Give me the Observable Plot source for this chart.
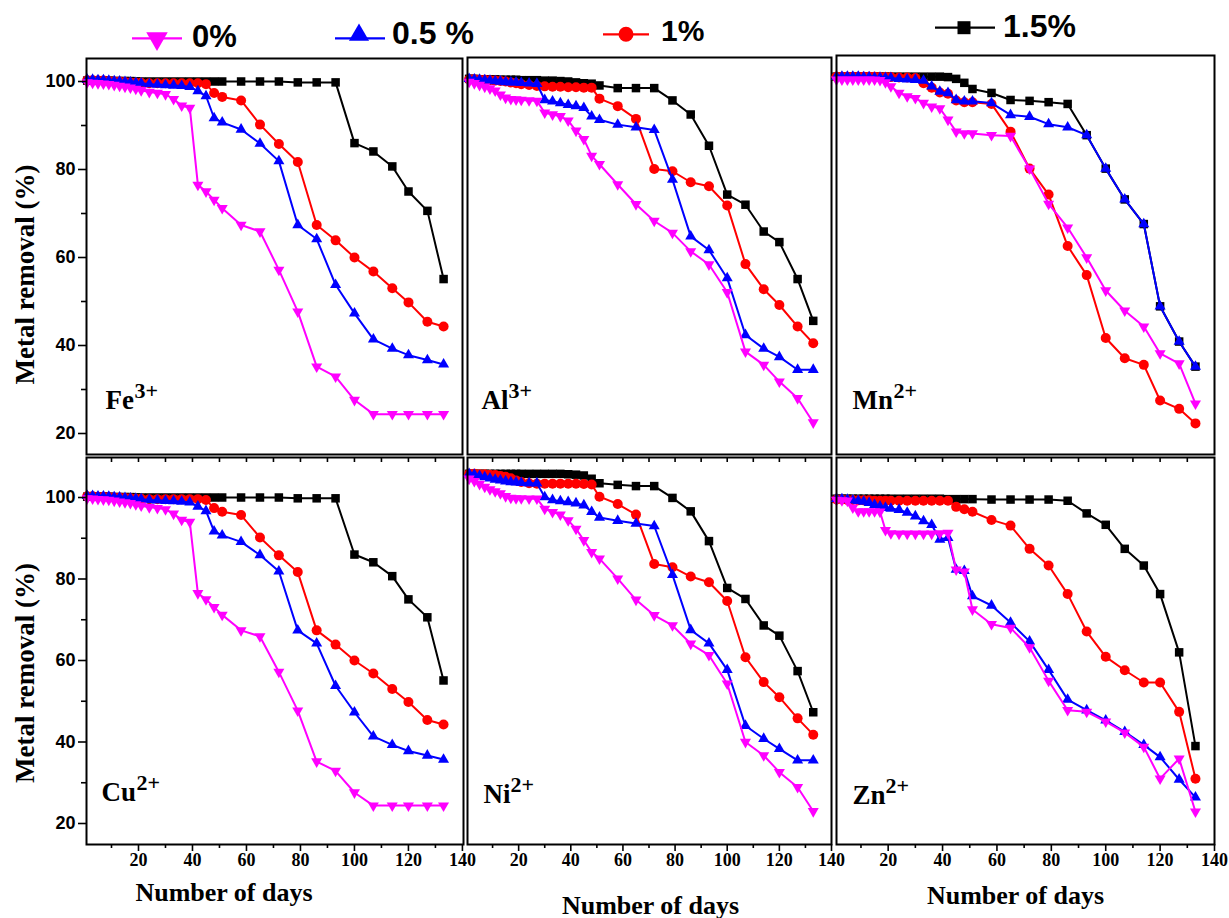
<!DOCTYPE html>
<html><head><meta charset="utf-8">
<script src="https://cdn.jsdelivr.net/npm/d3@7"></script>
<script src="https://cdn.jsdelivr.net/npm/@observablehq/plot@0.6"></script>
<style>
html,body{margin:0;padding:0;background:#fff;}
#root{position:relative;width:1229px;height:918px;overflow:hidden;background:#fff;}
#root svg{position:absolute;}
</style></head><body><div id="root"></div>
<script>
// ---------- data ----------
const days = [1,3,5,7,9,11,13,15,17,19,21,24,27,30,33,36,39,42,45,48,51,58,65,72,79,86,93,100,107,114,120,127,133];
const seriesNames = ["1.5%", "1%", "0.5 %", "0%"];
const seriesColors = ["#000000", "#ff0000", "#0000ff", "#ff00ff"];
const xTickLabels = [20, 40, 60, 80, 100, 120, 140];
const xMinorTicks = [10, 30, 50, 70, 90, 110, 130];
const yTickLabels = [20, 40, 60, 80, 100];
const yMinorTicks = [30, 50, 70, 90];

// Fe3+
const fe15 = [100.2,100.2,100.2,100.2,100.2,100.1,100.1,100.1,100.1,100,100,100,100,100,100,100,100,100,100,100,100,100,100,100,99.8,99.8,99.8,86,84.1,80.7,75,70.6,55.1];
const fe10 = [100.3,100.3,100.2,100.2,100.1,100,100,99.9,99.8,99.7,99.7,99.6,99.6,99.6,99.6,99.6,99.6,99.6,99.4,97.4,96.5,95.7,90.2,85.8,81.7,67.4,63.9,60,56.8,53,49.8,45.4,44.3];
const fe05 = [100.4,100.4,100.3,100.3,100.2,100.1,100,99.9,99.8,99.7,99.6,99.4,99.3,99.2,99.1,99,98.8,97.8,96.7,91.7,90.7,89.1,85.9,81.9,67.4,64.2,53.8,47.3,41.4,39.3,37.8,36.7,35.7];
const fe00 = [99.8,99.7,99.6,99.5,99.4,99.2,99,98.8,98.6,98.3,98,97.6,97.4,97.1,96,94.5,94,76.5,75,73.1,71.2,67.4,65.9,57.2,47.7,35.2,32.9,27.6,24.4,24.4,24.4,24.4,24.4];
// Al3+
const al15 = [100.6,100.6,100.5,100.5,100.5,100.5,100.4,100.4,100.4,100.4,100.3,100.3,100.3,100.2,100.2,100.1,100,99.8,99.6,99.5,99.1,98.5,98.5,98.5,95.7,92.5,85.4,74.3,72,65.9,63.5,55.1,45.6];
const al10 = [100.5,100.5,100.4,100.4,100.3,100.2,100.1,100,99.8,99.6,99.4,99.2,99,98.9,98.8,98.8,98.7,98.7,98.6,98.6,96.1,94.4,91.5,80.1,79.6,77.1,76.2,71.8,58.5,52.8,49.2,44.3,40.5];
const al05 = [100.6,100.5,100.4,100.3,100.2,100.1,100,99.9,99.8,99.8,99.7,99.6,99.5,95.8,95.5,95.1,94.7,94.4,94,92.1,91.3,90.2,89.6,89,77.7,64.8,61.7,55.3,42.4,39.3,37.4,34.5,34.5];
const al00 = [99.9,99.6,99.2,98.8,98.4,97.9,97,96.3,96,95.9,95.8,95.7,95.6,92.9,92.5,92.1,91.1,88.8,86.9,83.1,81.2,76.6,72.1,68.3,65.6,61.4,58.4,52.1,38.6,35.6,31.8,28,22.5];
// Mn2+
const mn15 = [101.1,101.1,101.1,101.1,101.1,101.1,101.1,101.1,101.1,101.1,101.1,101.1,101.1,101.1,101.1,101.1,101.1,101,100.6,99.7,98.3,97.4,95.8,95.6,95.3,94.9,87.8,80.2,73.2,67.6,48.9,40.9,35.2];
const mn10 = [101.1,101.1,101.1,101.1,101.1,101.1,101.1,101.1,101,101,101,100.9,100.9,100.8,99.6,98.6,97.5,97.2,95.7,95.3,95.3,94.9,88.6,80.2,74.3,62.6,56,41.7,37.1,35.6,27.5,25.6,22.3];
const mn05 = [101.1,101.1,101.1,101.1,101.1,101,101,100.9,100.9,100.8,100.8,100.6,100.5,100.4,100.2,98.9,97.7,97.4,95.8,95.5,95.5,95.1,92.4,92,90.3,89.6,87.8,80.2,73.2,67.6,48.9,40.9,35.2];
const mn00 = [100.4,100.4,100.4,100.4,100.4,100.4,100.4,100.4,100.3,99.8,98.9,97.4,96.6,96.2,95.1,94.3,93.9,91.3,88.6,88.2,88.2,87.8,87.6,80.2,72.2,66.8,60,52.5,47.9,44.3,38.2,35.9,26.8];
// Cu2+
const cu15 = [100.2,100.2,100.2,100.2,100.2,100.1,100.1,100.1,100.1,100,100,100,100,100,100,100,100,100,100,100,100,100,100,100,99.8,99.8,99.8,86,84.1,80.7,75,70.6,55.1];
const cu10 = [100.3,100.3,100.2,100.2,100.1,100,100,99.9,99.8,99.7,99.7,99.6,99.6,99.6,99.6,99.6,99.6,99.6,99.4,97.4,96.5,95.7,90.2,85.8,81.7,67.4,63.9,60,56.8,53,49.8,45.4,44.3];
const cu05 = [100.4,100.4,100.3,100.3,100.2,100.1,100,99.9,99.8,99.7,99.6,99.4,99.3,99.2,99.1,99,98.8,97.8,96.7,91.7,90.7,89.1,85.9,81.9,67.4,64.2,53.8,47.3,41.4,39.3,37.8,36.7,35.7];
const cu00 = [99.8,99.7,99.6,99.5,99.4,99.2,99,98.8,98.6,98.3,98,97.6,97.4,97.1,96,94.5,94,76.5,75,73.1,71.2,67.4,65.9,57.2,47.7,35.2,32.9,27.6,24.4,24.4,24.4,24.4,24.4];
// Ni2+
const ni15 = [105.8,105.8,105.8,105.8,105.8,105.8,105.8,105.8,105.8,105.8,105.8,105.8,105.8,105.8,105.8,105.8,105.7,105.6,105.4,104.6,103.5,103.1,102.8,102.8,99.9,96.6,89.3,77.8,75.1,68.6,66.1,57.4,47.3];
const ni10 = [105.8,105.8,105.7,105.7,105.6,105.5,105.3,105.1,104.7,104.2,103.8,103.5,103.4,103.4,103.4,103.4,103.4,103.4,103.3,103.2,100.2,98.4,95.8,83.7,82.9,80.6,79.2,74.6,60.8,54.7,51,45.8,41.8];
const ni05 = [105.8,105.6,105.3,105,104.7,104.4,104.2,104,103.8,103.7,103.6,103.5,103.5,100.1,99.4,99.1,98.9,98.6,98.1,96.5,95.1,94.3,93.6,93,81,67.5,64.2,57.7,44,40.8,38.3,35.5,35.5];
const ni00 = [104.6,104,103.3,102.6,102,101.5,101,100.3,99.9,99.8,99.8,99.7,99.7,97.2,96.4,95.8,94.4,92.3,89.5,86.6,85,80.1,74.9,71.1,68.6,64.1,61.3,54.3,40,36.7,32.6,28.9,23];
// Zn2+
const zn15 = [99.7,99.7,99.7,99.7,99.7,99.7,99.7,99.7,99.7,99.7,99.7,99.7,99.7,99.7,99.7,99.7,99.7,99.6,99.6,99.6,99.6,99.5,99.5,99.5,99.5,99.2,96.1,93.3,87.4,83.3,76.3,62,39];
const zn10 = [99.5,99.5,99.4,99.4,99.3,99.3,99.3,99.2,99.2,99.2,99.2,99.2,99.2,99.2,99.2,99.2,99.2,99.2,97.7,97.1,96.5,94.5,93.1,87.4,83.3,76.3,67.1,60.9,57.6,54.6,54.6,47.4,31];
const zn05 = [99.7,99.6,99.5,99.3,99.2,99,98.7,98.2,97.8,97.5,97.3,97,96.3,95.4,94.2,93.3,89.7,90.1,82.3,82,75.8,73.5,69.3,64.7,57.7,50.4,47.8,45.3,42.5,39.3,36.3,30.8,26.4];
const zn00 = [99.4,99.3,99.2,97.5,96.6,96.6,96.6,96.6,96.5,92,91.2,91.1,91.1,91.1,91.1,91.1,91.2,91.3,82.3,81.8,72.5,68.9,68,63.2,55,47.8,47.4,45,42.3,38.8,31,35.9,22.9];

// ---------- drawing ----------
const SERIF = "'Liberation Serif','Times New Roman',serif";
const SANS = "'Liberation Sans',Arial,sans-serif";

const triangleDown = {
  draw(context, size) {
    const y = -Math.sqrt(size / (Math.sqrt(3) * 3));
    context.moveTo(0, -y * 2);
    context.lineTo(-Math.sqrt(3) * y, y);
    context.lineTo(Math.sqrt(3) * y, y);
    context.closePath();
  }
};
const seriesSymbols = ["square", "circle", "triangle", triangleDown];
const seriesR = [4.8, 5, 4.1, 4.1];

const root = document.getElementById("root");

function panel(cfg) {
  const [x0, x1] = cfg.fx, [y0, y1] = cfg.fy;
  const fw = x1 - x0, fh = y1 - y0;
  const mL = cfg.mL, mR = 6, mT = 4, mB = cfg.mB;
  const marks = [];
  cfg.series.forEach((vals, s) => {
    const table = days.map((d, i) => ({day: d, v: vals[i], name: seriesNames[s]}));
    marks.push(Plot.line(table, {x: "day", y: "v", stroke: seriesColors[s], strokeWidth: 2}));
    marks.push(Plot.dot(table, {x: "day", y: "v", fill: seriesColors[s], stroke: "none", symbol: seriesSymbols[s], r: seriesR[s]}));
  });
  marks.push(Plot.frame({stroke: "black", strokeWidth: 2}));
  if (cfg.yAxis) {
    marks.push(Plot.axisY({ticks: yTickLabels, anchor: "left", tickSize: 8, tickPadding: 3, strokeWidth: 1.6, fontSize: 18, fontWeight: "bold", fontFamily: SANS, label: null}));
    marks.push(Plot.axisY({ticks: yMinorTicks, anchor: "left", tickSize: 5, strokeWidth: 1.6, tickFormat: () => "", label: null}));
    marks.push(Plot.text(["Metal removal (%)"], {frameAnchor: "left", textAnchor: "middle", lineAnchor: "middle", rotate: -90, dx: -61, dy: cfg.titleDy, fontSize: 27, fontWeight: "bold", fontFamily: SERIF, fill: "black"}));
  }
  if (cfg.xAxis) {
    marks.push(Plot.axisX({ticks: xTickLabels, anchor: "bottom", tickSize: 7, tickPadding: 2, strokeWidth: 1.6, fontSize: 18, fontWeight: "bold", fontFamily: SERIF, label: null}));
    marks.push(Plot.axisX({ticks: xMinorTicks, anchor: "bottom", tickSize: 4, strokeWidth: 1.6, tickFormat: () => "", label: null}));
    marks.push(Plot.ruleX(xMinorTicks.concat(xTickLabels.slice(0, -1)), {x: d => d, insetBottom: fh - 5, stroke: "black", strokeWidth: 1.6}));
    marks.push(Plot.text(["Number of days"], {frameAnchor: "bottom", lineAnchor: "bottom", dx: cfg.xtDx, dy: cfg.xtDy, fontSize: 26, fontWeight: "bold", fontFamily: SERIF, fill: "black"}));
  }
  marks.push(Plot.text([cfg.ion], {frameAnchor: "bottom-left", textAnchor: "start", lineAnchor: "bottom", dx: cfg.lDx, dy: cfg.lDy, fontSize: 27, fontWeight: "bold", fontFamily: SERIF, fill: "black"}));
  marks.push(Plot.text([cfg.charge], {frameAnchor: "bottom-left", textAnchor: "start", lineAnchor: "bottom", dx: cfg.sDx, dy: cfg.lDy - 11, fontSize: 22, fontWeight: "bold", fontFamily: SERIF, fill: "black"}));

  const svg = Plot.plot({
    width: mL + fw + mR, height: mT + fh + mB,
    marginLeft: mL, marginRight: mR, marginTop: mT, marginBottom: mB,
    x: {domain: cfg.xd, axis: null},
    y: {domain: cfg.yd, axis: null},
    style: {background: "transparent", overflow: "visible", color: "black"},
    marks
  });
  svg.style.position = "absolute";
  svg.style.left = (x0 - mL) + "px";
  svg.style.top = (y0 - mT) + "px";
  root.appendChild(svg);
}

// y domains [bottom value, top value] so that larger values are higher up
const topY = (t) => [20 - (454 - 433) / 4.4, 100 + (81 - t) / 4.4];
const botY = [20 - (844 - 823) / 4.075, 100 + (497 - 457) / 4.075];

panel({series: [fe15, fe10, fe05, fe00], fx: [86, 462], fy: [58, 454], xd: [0.74, 140], yd: topY(58), mL: 86, mB: 4, yAxis: true, titleDy: 18, ion: "Fe", charge: "3+", lDx: 19, sDx: 48, lDy: -46});
panel({series: [al15, al10, al05, al00], fx: [467, 831], fy: [57, 454], xd: [0.38, 140], yd: topY(57), mL: 6, mB: 4, ion: "Al", charge: "3+", lDx: 14, sDx: 41, lDy: -46});
panel({series: [mn15, mn10, mn05, mn00], fx: [836, 1214], fy: [55, 454], xd: [1, 140], yd: topY(55), mL: 6, mB: 4, ion: "Mn", charge: "2+", lDx: 16, sDx: 57, lDy: -46});
panel({series: [cu15, cu10, cu05, cu00], fx: [86, 463], fy: [457, 844], xd: [0.74, 140.4], yd: botY, mL: 86, mB: 76, yAxis: true, titleDy: 22, xAxis: true, xtDx: -51, xtDy: 56, ion: "Cu", charge: "2+", lDx: 15, sDx: 50, lDy: -44});
panel({series: [ni15, ni10, ni05, ni00], fx: [467, 831], fy: [457, 844], xd: [0.38, 140], yd: botY, mL: 6, mB: 76, xAxis: true, xtDx: 1, xtDy: 69, ion: "Ni", charge: "2+", lDx: 16, sDx: 43, lDy: -42});
panel({series: [zn15, zn10, zn05, zn00], fx: [836, 1214], fy: [457, 844], xd: [1, 140], yd: botY, mL: 6, mB: 76, xAxis: true, xtDx: -10, xtDy: 59, ion: "Zn", charge: "2+", lDx: 16, sDx: 49, lDy: -41});

// ---------- legend (above the panels) ----------
const legendLayout = [
  {s: 3, lx: [132, 182], ly: 38.3, mx: 157, my: 38.5, size: 200, tx: 192, ty: 46.7, fs: 31},
  {s: 2, lx: [335, 385], ly: 38.3, mx: 359, my: 35, size: 175, tx: 392, ty: 44.3, fs: 32},
  {s: 1, lx: [603, 649], ly: 34.3, mx: 626, my: 34.3, size: 177, tx: 661, ty: 41, fs: 30},
  {s: 0, lx: [935, 995], ly: 27.7, mx: 964, my: 27.7, size: 169, tx: 1003, ty: 36.7, fs: 32}
];
const legendSymbols = [d3.symbolSquare, d3.symbolCircle, d3.symbolTriangle, triangleDown];
const lg = d3.create("svg").attr("width", 1229).attr("height", 56)
  .style("position", "absolute").style("left", "0px").style("top", "0px").style("overflow", "visible");
legendLayout.forEach(L => {
  const c = seriesColors[L.s];
  lg.append("line").attr("x1", L.lx[0]).attr("x2", L.lx[1]).attr("y1", L.ly).attr("y2", L.ly)
    .attr("stroke", c).attr("stroke-width", 2.2);
  lg.append("path").attr("d", d3.symbol(legendSymbols[L.s], L.size)())
    .attr("transform", `translate(${L.mx},${L.my})`).attr("fill", c);
  lg.append("text").attr("x", L.tx).attr("y", L.ty).text(seriesNames[L.s])
    .attr("font-family", SANS).attr("font-weight", "bold").attr("font-size", L.fs).attr("fill", "black");
});
root.appendChild(lg.node());
</script>
</body></html>
